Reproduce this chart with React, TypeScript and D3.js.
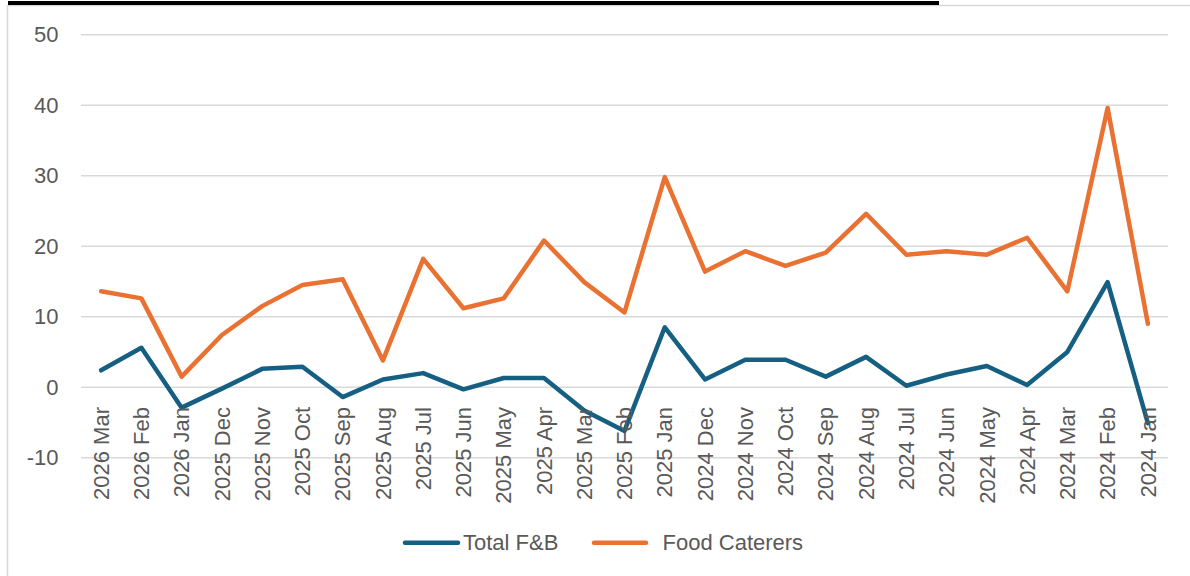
import React from "react";
import * as d3 from "d3";

const categories = [
  "2026 Mar", "2026 Feb", "2026 Jan", "2025 Dec", "2025 Nov", "2025 Oct", "2025 Sep",
  "2025 Aug", "2025 Jul", "2025 Jun", "2025 May", "2025 Apr", "2025 Mar", "2025 Feb",
  "2025 Jan", "2024 Dec", "2024 Nov", "2024 Oct", "2024 Sep", "2024 Aug", "2024 Jul",
  "2024 Jun", "2024 May", "2024 Apr", "2024 Mar", "2024 Feb", "2024 Jan",
];

const totalFB = [
  2.4, 5.6, -2.9, -0.2, 2.6, 2.9, -1.4, 1.1, 2.0, -0.3, 1.3, 1.3, -3.3, -6.2,
  8.5, 1.1, 3.9, 3.9, 1.5, 4.3, 0.2, 1.8, 3.0, 0.3, 5.0, 14.9, -5.1,
];

const foodCaterers = [
  13.6, 12.6, 1.5, 7.4, 11.5, 14.5, 15.3, 3.8, 18.2, 11.2, 12.6, 20.8, 14.9, 10.6,
  29.8, 16.4, 19.3, 17.2, 19.1, 24.6, 18.8, 19.3, 18.8, 21.2, 13.6, 39.6, 9.0,
];

const yTicks = [-10, 0, 10, 20, 30, 40, 50];

const seriesNames = ["Total F&B", "Food Caterers"];
const seriesColors = ["#156082", "#E97132"];

const W = 1190;
const H = 576;
const FONT = "'Liberation Sans', Arial, sans-serif";
const FS = 22;

export default function App() {
  const x = d3.scaleBand<string>().domain(categories).range([81, 1168]);
  const y = d3.scaleLinear().domain([-10, 50]).range([457.7, 34.7]);
  const cx = (c: string) => (x(c) as number) + x.bandwidth() / 2;

  const line = d3
    .line<number>()
    .x((_, i) => cx(categories[i]))
    .y((v) => y(v));

  const series = [totalFB, foodCaterers];

  return (
    <svg
      width={W}
      height={H}
      style={{ position: "absolute", left: 0, top: 0, background: "#fff" }}
      fontFamily={FONT}
    >
      <rect x={0} y={0} width={W} height={H} fill="#fff" />
      {/* frame */}
      <line x1={7.5} x2={7.5} y1={5} y2={H} stroke="#d9d9d9" strokeWidth={1.5} />
      <line x1={7.5} x2={W} y1={5.5} y2={5.5} stroke="#d9d9d9" strokeWidth={1.5} />
      <rect x={8} y={1} width={931} height={4} fill="#000" />

      {/* gridlines */}
      {yTicks.map((t) => (
        <line
          key={t}
          x1={81}
          x2={1168}
          y1={y(t)}
          y2={y(t)}
          stroke="#d9d9d9"
          strokeWidth={1.5}
        />
      ))}
      {/* y tick labels */}
      {yTicks.map((t) => (
        <text
          key={"l" + t}
          x={58.5}
          y={y(t)}
          dy="0.35em"
          textAnchor="end"
          fontSize={FS}
          fill="#595959"
        >
          {t}
        </text>
      ))}

      {/* lines */}
      {series.map((s, i) => (
        <path
          key={i}
          d={line(s) || ""}
          fill="none"
          stroke={seriesColors[i]}
          strokeWidth={4.5}
          strokeLinejoin="round"
          strokeLinecap="round"
        />
      ))}

      {/* x labels */}
      {categories.map((c) => (
        <text
          key={c}
          transform={`translate(${cx(c)},407) rotate(-90)`}
          dy="0.35em"
          textAnchor="end"
          fontSize={FS}
          fill="#595959"
        >
          {c}
        </text>
      ))}

      {/* legend */}
      <line x1={405} x2={458} y1={542.7} y2={542.7} stroke={seriesColors[0]} strokeWidth={4.5} strokeLinecap="round" />
      <text x={463} y={542.7} dy="0.35em" fontSize={FS} fill="#595959">
        {seriesNames[0]}
      </text>
      <line x1={594} x2={646} y1={542.7} y2={542.7} stroke={seriesColors[1]} strokeWidth={4.5} strokeLinecap="round" />
      <text x={662.5} y={542.7} dy="0.35em" fontSize={FS} fill="#595959">
        {seriesNames[1]}
      </text>
    </svg>
  );
}
